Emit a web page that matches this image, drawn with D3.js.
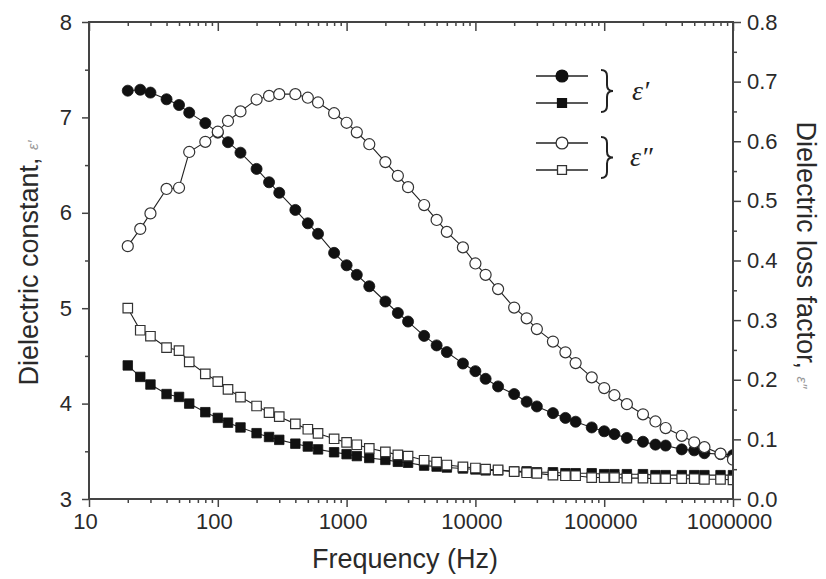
<!DOCTYPE html>
<html>
<head>
<meta charset="utf-8">
<script src="https://cdn.jsdelivr.net/npm/d3@7"></script>
<style>
	body { margin: 0; background: #fff; }
	svg { display: block; font-family: 'Liberation Sans', Arial, sans-serif; }
	.tick text { fill: #2a2a2a; font-size: 22px; }
	.tick line { stroke: #444; stroke-width: 1.5; }
	.axis-title { fill: #2a2a2a; font-size: 27px; }
</style>
</head>
<body>
<svg id="chart" width="826" height="579"></svg>
<script>
// Frequency (Hz) of each measured point
const frequencies = [
	20, 25, 30, 40, 50, 60, 80,
	100, 120, 150, 200, 250, 300, 400, 500, 600, 800,
	1000, 1200, 1500, 2000, 2500, 3000, 4000, 5000, 6000, 8000,
	10000, 12000, 15000, 20000, 25000, 30000, 40000, 50000, 60000, 80000,
	100000, 120000, 150000, 200000, 250000, 300000, 400000, 500000, 600000, 800000,
	1000000,
];

// Dielectric constant (left axis), filled circles
const epsRealCircle = [
	7.28, 7.29, 7.26, 7.19, 7.13, 7.05, 6.94,
	6.84, 6.74, 6.63, 6.46, 6.32, 6.21, 6.03, 5.89, 5.78, 5.58,
	5.45, 5.35, 5.23, 5.07, 4.95, 4.86, 4.71, 4.61, 4.54, 4.42,
	4.34, 4.26, 4.18, 4.10, 4.02, 3.97, 3.90, 3.85, 3.81, 3.75,
	3.71, 3.68, 3.64, 3.60, 3.57, 3.56, 3.52, 3.51, 3.48, 3.47,
	3.46,
];

// Dielectric constant (left axis), filled squares
const epsRealSquare = [
	4.40, 4.28, 4.20, 4.10, 4.07, 4.00, 3.91,
	3.85, 3.80, 3.75, 3.69, 3.65, 3.62, 3.58, 3.55, 3.52, 3.49,
	3.47, 3.45, 3.43, 3.41, 3.39, 3.38, 3.35, 3.34, 3.33, 3.32,
	3.31, 3.30, 3.30, 3.29, 3.29, 3.28, 3.28, 3.27, 3.27, 3.27,
	3.26, 3.26, 3.26, 3.26, 3.25, 3.25, 3.25, 3.25, 3.25, 3.25,
	3.25,
];

// Dielectric loss factor (right axis), open circles
const epsLossCircle = [
	0.424, 0.453, 0.479, 0.520, 0.522, 0.582, 0.599,
	0.616, 0.634, 0.650, 0.670, 0.676, 0.679, 0.679, 0.673, 0.665, 0.647,
	0.631, 0.615, 0.595, 0.565, 0.542, 0.523, 0.493, 0.468, 0.448, 0.422,
	0.395, 0.376, 0.352, 0.321, 0.303, 0.285, 0.264, 0.246, 0.228, 0.204,
	0.186, 0.174, 0.159, 0.142, 0.130, 0.119, 0.106, 0.095, 0.087, 0.076,
	0.066,
];

// Dielectric loss factor (right axis), open squares
const epsLossSquare = [
	0.320, 0.283, 0.273, 0.254, 0.249, 0.230, 0.210,
	0.197, 0.184, 0.171, 0.156, 0.145, 0.138, 0.126, 0.117, 0.110, 0.101,
	0.095, 0.091, 0.085, 0.079, 0.074, 0.072, 0.065, 0.062, 0.057, 0.054,
	0.052, 0.050, 0.049, 0.046, 0.044, 0.043, 0.040, 0.039, 0.039, 0.036,
	0.036, 0.036, 0.035, 0.035, 0.034, 0.034, 0.034, 0.034, 0.033, 0.033,
	0.032,
];

const freqTicks = [ 10, 100, 1000, 10000, 100000, 1000000 ];
const leftTicks = [ 3, 4, 5, 6, 7, 8 ];
const leftMinorTicks = [ 3.5, 4.5, 5.5, 6.5, 7.5 ];
const rightTicks = [ 0, 0.1, 0.2, 0.3, 0.4, 0.5, 0.6, 0.7, 0.8 ];
const rightMinorTicks = [ 0.05, 0.15, 0.25, 0.35, 0.45, 0.55, 0.65, 0.75 ];

const margin = { top: 22, right: 93, bottom: 80, left: 89 };
const width = 826 - margin.left - margin.right;
const height = 579 - margin.top - margin.bottom;

const svg = d3.select( '#chart' );
const g = svg.append( 'g' )
	.attr( 'transform', `translate(${ margin.left },${ margin.top })` );

const x = d3.scaleLog().domain( [ 10, 1000000 ] ).range( [ 0, width ] );
const yLeft = d3.scaleLinear().domain( [ 3, 8 ] ).range( [ height, 0 ] );
const yRight = d3.scaleLinear().domain( [ 0, 0.8 ] ).range( [ height, 0 ] );

// log minor ticks 2..9 inside every decade
const freqMinorTicks = [];
freqTicks.slice( 0, -1 ).forEach( ( t ) => {
	for ( let k = 2; k < 10; k++ ) {
		freqMinorTicks.push( t * k );
	}
} );

function styleAxis( sel ) {
	sel.select( '.domain' ).remove();
}

// Bottom axis
g.append( 'g' )
	.attr( 'transform', `translate(0,${ height })` )
	.call( d3.axisBottom( x ).tickValues( freqTicks ).tickFormat( d3.format( 'd' ) ).tickSize( 8 ).tickPadding( 6 ) )
	.call( styleAxis )
	.selectAll( 'text' ).attr( 'dx', -4 );
g.append( 'g' )
	.attr( 'transform', `translate(0,${ height })` )
	.call( d3.axisBottom( x ).tickValues( freqMinorTicks ).tickFormat( '' ).tickSize( 4 ) )
	.call( styleAxis );

// Top mirror axis, ticks pointing inward
g.append( 'g' )
	.call( d3.axisTop( x ).tickValues( freqTicks ).tickFormat( '' ).tickSize( -9 ) )
	.call( styleAxis );
g.append( 'g' )
	.call( d3.axisTop( x ).tickValues( freqMinorTicks ).tickFormat( '' ).tickSize( -4 ) )
	.call( styleAxis );

// Left axis
g.append( 'g' )
	.call( d3.axisLeft( yLeft ).tickValues( leftTicks ).tickFormat( d3.format( 'd' ) ).tickSize( 7 ).tickPadding( 10 ) )
	.call( styleAxis );
g.append( 'g' )
	.call( d3.axisLeft( yLeft ).tickValues( leftMinorTicks ).tickFormat( '' ).tickSize( 4 ) )
	.call( styleAxis );

// Right axis
g.append( 'g' )
	.attr( 'transform', `translate(${ width },0)` )
	.call( d3.axisRight( yRight ).tickValues( rightTicks ).tickFormat( d3.format( '.1f' ) ).tickSize( 8 ).tickPadding( 6 ) )
	.call( styleAxis );
g.append( 'g' )
	.attr( 'transform', `translate(${ width },0)` )
	.call( d3.axisRight( yRight ).tickValues( rightMinorTicks ).tickFormat( '' ).tickSize( 4 ) )
	.call( styleAxis );

// Clip the series to the plot frame
g.append( 'clipPath' )
	.attr( 'id', 'plot-clip' )
	.append( 'rect' )
	.attr( 'width', width )
	.attr( 'height', height );

const plot = g.append( 'g' ).attr( 'clip-path', 'url(#plot-clip)' );

function drawSeries( values, yScale, shape, filled ) {
	const line = d3.line()
		.x( ( d, i ) => x( frequencies[ i ] ) )
		.y( ( d ) => yScale( d ) );

	plot.append( 'path' )
		.datum( values )
		.attr( 'fill', 'none' )
		.attr( 'stroke', '#222' )
		.attr( 'stroke-width', 1.1 )
		.attr( 'd', line );

	const symbol = d3.symbol()
		.type( shape === 'circle' ? d3.symbolCircle : d3.symbolSquare )
		.size( shape === 'circle' ? 96 : 90 );

	plot.append( 'g' )
		.selectAll( 'path' )
		.data( values )
		.join( 'path' )
		.attr( 'transform', ( d, i ) => `translate(${ x( frequencies[ i ] ) },${ yScale( d ) })` )
		.attr( 'd', symbol )
		.attr( 'fill', filled ? '#111' : '#fff' )
		.attr( 'stroke', filled ? '#111' : '#333' )
		.attr( 'stroke-width', filled ? 0.8 : 1.2 );
}

drawSeries( epsRealCircle, yLeft, 'circle', true );
drawSeries( epsRealSquare, yLeft, 'square', true );
drawSeries( epsLossSquare, yRight, 'square', false );
drawSeries( epsLossCircle, yRight, 'circle', false );

// Plot frame
g.append( 'rect' )
	.attr( 'width', width )
	.attr( 'height', height )
	.attr( 'fill', 'none' )
	.attr( 'stroke', '#444' )
	.attr( 'stroke-width', 2 );

// Axis titles
svg.append( 'text' )
	.attr( 'class', 'axis-title' )
	.attr( 'x', 405 )
	.attr( 'y', 568 )
	.attr( 'text-anchor', 'middle' )
	.text( 'Frequency (Hz)' );

const leftTitle = svg.append( 'text' )
	.attr( 'class', 'axis-title' )
	.attr( 'transform', 'translate(38,263) rotate(-90)' )
	.attr( 'text-anchor', 'middle' );
leftTitle.append( 'tspan' ).text( 'Dielectric constant, ' );
leftTitle.append( 'tspan' ).attr( 'font-size', 15 ).attr( 'fill', '#999' ).attr( 'font-style', 'italic' ).text( 'ε′' );

const rightTitle = svg.append( 'text' )
	.attr( 'class', 'axis-title' )
	.attr( 'transform', 'translate(797,255) rotate(90)' )
	.attr( 'text-anchor', 'middle' );
rightTitle.append( 'tspan' ).text( 'Dielectric loss factor, ' );
rightTitle.append( 'tspan' ).attr( 'font-size', 15 ).attr( 'fill', '#999' ).attr( 'font-style', 'italic' ).text( 'ε″' );

// Legend
const legendRows = [
	{ y: 76, shape: 'circle', filled: true },
	{ y: 103, shape: 'square', filled: true },
	{ y: 143, shape: 'circle', filled: false },
	{ y: 170, shape: 'square', filled: false },
];
const legend = svg.append( 'g' );
legendRows.forEach( ( row ) => {
	legend.append( 'line' )
		.attr( 'x1', 536 ).attr( 'x2', 588 )
		.attr( 'y1', row.y ).attr( 'y2', row.y )
		.attr( 'stroke', '#222' )
		.attr( 'stroke-width', 1.3 );
	const symbol = d3.symbol()
		.type( row.shape === 'circle' ? d3.symbolCircle : d3.symbolSquare )
		.size( row.shape === 'circle' ? 110 : 80 );
	legend.append( 'path' )
		.attr( 'transform', `translate(562,${ row.y })` )
		.attr( 'd', symbol )
		.attr( 'fill', row.filled ? '#111' : '#fff' )
		.attr( 'stroke', row.filled ? '#111' : '#333' )
		.attr( 'stroke-width', 1.3 );
} );

function brace( x0, y1, y2, w ) {
	const ym = ( y1 + y2 ) / 2;
	const xc = x0 + w / 2;
	const r = 6;
	const p = d3.path();
	p.moveTo( x0, y1 );
	p.quadraticCurveTo( xc, y1, xc, y1 + r );
	p.lineTo( xc, ym - r );
	p.quadraticCurveTo( xc, ym, x0 + w, ym );
	p.quadraticCurveTo( xc, ym, xc, ym + r );
	p.lineTo( xc, y2 - r );
	p.quadraticCurveTo( xc, y2, x0, y2 );
	return p.toString();
}

[ [ 70, 112 ], [ 137, 178 ] ].forEach( ( [ y1, y2 ] ) => {
	legend.append( 'path' )
		.attr( 'd', brace( 601, y1, y2, 12 ) )
		.attr( 'fill', 'none' )
		.attr( 'stroke', '#222' )
		.attr( 'stroke-width', 2 );
} );

legend.append( 'text' )
	.attr( 'x', 632 ).attr( 'y', 100 )
	.attr( 'font-family', "'Liberation Serif', serif" )
	.attr( 'font-style', 'italic' )
	.attr( 'font-size', 28 )
	.attr( 'fill', '#222' )
	.text( 'ε′' );
legend.append( 'text' )
	.attr( 'x', 630 ).attr( 'y', 166 )
	.attr( 'font-family', "'Liberation Serif', serif" )
	.attr( 'font-style', 'italic' )
	.attr( 'font-size', 28 )
	.attr( 'fill', '#222' )
	.text( 'ε″' );
</script>
</body>
</html>
